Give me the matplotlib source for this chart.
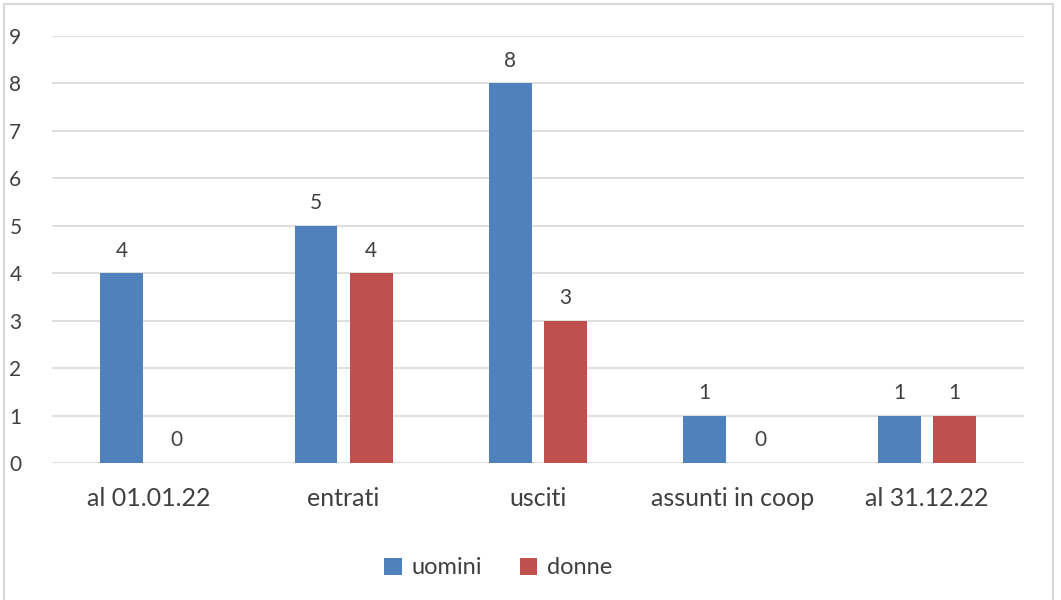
import numpy as np
import matplotlib.pyplot as plt
from matplotlib.patches import Rectangle

categories = ["al 01.01.22", "entrati", "usciti", "assunti in coop", "al 31.12.22"]
uomini = [4, 5, 8, 1, 1]
donne = [0, 4, 3, 0, 1]
y_ticks = list(range(0, 10))

plt.rcParams["font.family"] = ["Lato", "DejaVu Sans"]
text_color = "#404040"

fig = plt.figure(figsize=(10.61, 6.0), dpi=100)
ax = fig.add_axes([52 / 1061, 1 - 463 / 600, (1024 - 52) / 1061, (463 - 36) / 600])

x = np.arange(len(categories))
width = 0.22
off = 0.142
b1 = ax.bar(x - off, uomini, width, color="#4F81BD", label="uomini", zorder=3)
b2 = ax.bar(x + off, donne, width, color="#C0504D", label="donne", zorder=3)

for bars in (b1, b2):
    ax.bar_label(bars, padding=9, fontsize=15, color=text_color)

ax.set_xlim(-0.5, len(categories) - 0.5)
ax.set_ylim(0, 9)
ax.set_yticks(y_ticks)
ax.set_xticks(x)
ax.set_xticklabels(categories, fontsize=18, color=text_color)
ax.tick_params(axis="x", length=0, pad=17)
ax.tick_params(axis="y", length=0, pad=22, labelsize=15, labelcolor=text_color)

ax.grid(axis="y", color="#D9D9D9", linewidth=1.2, zorder=0)
for s in ax.spines.values():
    s.set_visible(False)

fig.legend(handles=[b1, b2], loc="center", bbox_to_anchor=(498 / 1061, 1 - 568 / 600),
           ncol=2, frameon=False, fontsize=17, handlelength=0.75, handleheight=0.75,
           columnspacing=1.6, handletextpad=0.4, labelcolor=text_color)

fig.patches.append(Rectangle((4 / 1061, -0.01), 1049 / 1061, 1 - 4 / 600 + 0.01,
                             transform=fig.transFigure, fill=False,
                             edgecolor="#D9D9D9", linewidth=1.5))

fig.savefig("out.png", dpi=100)
